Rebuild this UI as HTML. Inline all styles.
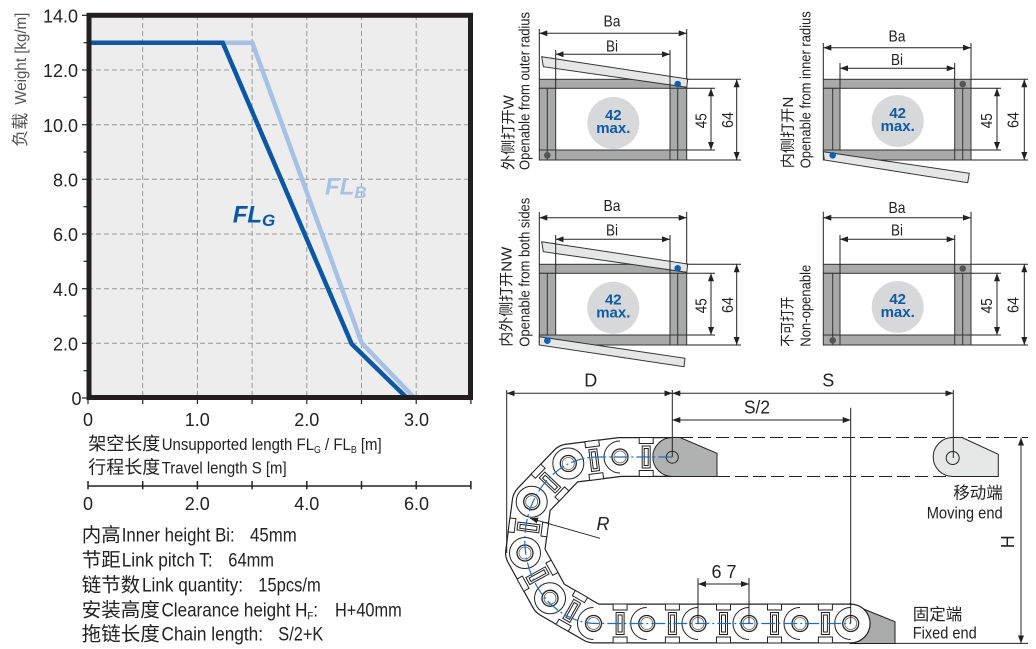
<!DOCTYPE html>
<html><head><meta charset="utf-8"><style>
html,body{margin:0;padding:0;background:#fff;}
svg{display:block;}
text{font-family:"Liberation Sans","Noto Sans CJK SC",sans-serif;fill:#222;}
.cj{font-family:"Noto Sans CJK SC","Liberation Sans",sans-serif;}
</style></head><body>
<svg width="1036" height="649" viewBox="0 0 1036 649" xmlns="http://www.w3.org/2000/svg">
<defs>
<marker id="a" viewBox="0 0 8 6" refX="8" refY="3" markerWidth="8" markerHeight="6" markerUnits="userSpaceOnUse" orient="auto-start-reverse"><path d="M0,0L8,3L0,6z" fill="#222"/></marker>
</defs>

<!-- ============ CHART ============ -->
<rect x="88" y="15.3" width="383" height="382.7" fill="#ecedec"/>
<g stroke="#9a9a9a" stroke-width="1" stroke-dasharray="5,3">
<line x1="142.7" y1="15" x2="142.7" y2="398"/><line x1="197.4" y1="15" x2="197.4" y2="398"/>
<line x1="252.1" y1="15" x2="252.1" y2="398"/><line x1="306.8" y1="15" x2="306.8" y2="398"/>
<line x1="361.5" y1="15" x2="361.5" y2="398"/><line x1="416.2" y1="15" x2="416.2" y2="398"/>
<line x1="88" y1="343.3" x2="471" y2="343.3"/><line x1="88" y1="288.7" x2="471" y2="288.7"/>
<line x1="88" y1="234" x2="471" y2="234"/><line x1="88" y1="179.3" x2="471" y2="179.3"/>
<line x1="88" y1="124.7" x2="471" y2="124.7"/><line x1="88" y1="70" x2="471" y2="70"/>
</g>
<path d="M91,42.7 L252.3,42.7 L361.7,343 L413.5,397" fill="none" stroke="#a7c1e6" stroke-width="4.5"/>
<path d="M91,42.7 L222.7,42.7 L351.7,344 L406,397" fill="none" stroke="#0c57a5" stroke-width="4.5"/>
<rect x="89" y="15.3" width="381.5" height="382.2" fill="none" stroke="#231f20" stroke-width="5"/>
<text x="232.7" y="222.7" font-size="24" font-weight="bold" font-style="italic" style="fill:#0c57a5">FL<tspan font-size="17" dy="3.5">G</tspan></text>
<text x="325" y="194.3" font-size="24" font-weight="bold" font-style="italic" style="fill:#a7c1e6">FL<tspan font-size="17" dy="3.5">B</tspan></text>
<!-- y ticks -->
<g stroke="#222" stroke-width="1.2">
<line x1="82" y1="15.3" x2="87" y2="15.3"/><line x1="82" y1="70" x2="87" y2="70"/><line x1="82" y1="124.7" x2="87" y2="124.7"/>
<line x1="82" y1="179.3" x2="87" y2="179.3"/><line x1="82" y1="234" x2="87" y2="234"/><line x1="82" y1="288.7" x2="87" y2="288.7"/>
<line x1="82" y1="343.3" x2="87" y2="343.3"/><line x1="82" y1="398" x2="87" y2="398"/>
<line x1="83.5" y1="42.7" x2="87" y2="42.7"/><line x1="83.5" y1="97.3" x2="87" y2="97.3"/><line x1="83.5" y1="152" x2="87" y2="152"/>
<line x1="83.5" y1="206.7" x2="87" y2="206.7"/><line x1="83.5" y1="261.3" x2="87" y2="261.3"/><line x1="83.5" y1="316" x2="87" y2="316"/>
<line x1="83.5" y1="370.7" x2="87" y2="370.7"/>
<line x1="88" y1="398" x2="88" y2="404"/><line x1="142.7" y1="398" x2="142.7" y2="404"/><line x1="197.4" y1="398" x2="197.4" y2="404"/>
<line x1="252.1" y1="398" x2="252.1" y2="404"/><line x1="306.8" y1="398" x2="306.8" y2="404"/><line x1="361.5" y1="398" x2="361.5" y2="404"/>
<line x1="416.2" y1="398" x2="416.2" y2="404"/><line x1="470.9" y1="398" x2="470.9" y2="404"/>
</g>
<g font-size="18" text-anchor="end">
<text x="78" y="22.5">14.0</text><text x="78" y="77.2">12.0</text><text x="78" y="131.9">10.0</text>
<text x="78" y="186.5">8.0</text><text x="78" y="241.2">6.0</text><text x="78" y="295.9">4.0</text>
<text x="78" y="350.5">2.0</text><text x="81.5" y="405">0</text>
</g>
<g font-size="18" text-anchor="middle">
<text x="88" y="426">0</text><text x="197.3" y="426">1.0</text><text x="306.8" y="426">2.0</text><text x="416.5" y="426">3.0</text>
<text x="88" y="510">0</text><text x="197.3" y="510">2.0</text><text x="306.8" y="510">4.0</text><text x="416.5" y="510">6.0</text>
</g>
<g transform="translate(26,146.7) rotate(-90)">
<text class="cj" x="0" y="0" font-size="17" style="fill:#555">负载</text>
<text x="42" y="0" font-size="16" textLength="92" lengthAdjust="spacingAndGlyphs" style="fill:#555">Weight [kg/m]</text>
</g>
<!-- axis titles -->
<text class="cj" x="88.3" y="450" font-size="18">架空长度</text>
<text x="161.7" y="450" font-size="17" textLength="220" lengthAdjust="spacingAndGlyphs">Unsupported length FL<tspan font-size="10" dy="3">G</tspan><tspan dy="-3"> / FL</tspan><tspan font-size="10" dy="3">B</tspan><tspan dy="-3"> [m]</tspan></text>
<text class="cj" x="88.3" y="473.3" font-size="18">行程长度</text>
<text x="161.7" y="473.3" font-size="17" textLength="125" lengthAdjust="spacingAndGlyphs">Travel length S [m]</text>
<!-- second axis -->
<g stroke="#222" stroke-width="1.5">
<line x1="88" y1="486" x2="471" y2="486"/>
<line x1="88" y1="481" x2="88" y2="489.3"/><line x1="142.7" y1="481" x2="142.7" y2="489.3"/><line x1="197.4" y1="481" x2="197.4" y2="489.3"/>
<line x1="252.1" y1="481" x2="252.1" y2="489.3"/><line x1="306.8" y1="481" x2="306.8" y2="489.3"/><line x1="361.5" y1="481" x2="361.5" y2="489.3"/>
<line x1="416.2" y1="481" x2="416.2" y2="489.3"/><line x1="470.9" y1="481" x2="470.9" y2="489.3"/>
</g>
<!-- specs -->
<g font-size="19.5">
<text class="cj" x="81.7" y="541.7">内高</text>
<text x="121.7" y="541.7" textLength="113" lengthAdjust="spacingAndGlyphs">Inner height Bi:</text>
<text x="250" y="541.7" textLength="46.7" lengthAdjust="spacingAndGlyphs">45mm</text>
<text class="cj" x="81.7" y="566.7">节距</text>
<text x="121.7" y="566.7" textLength="91" lengthAdjust="spacingAndGlyphs">Link pitch T:</text>
<text x="228.3" y="566.7" textLength="45.7" lengthAdjust="spacingAndGlyphs">64mm</text>
<text class="cj" x="81.7" y="591.7">链节数</text>
<text x="142" y="591.7" textLength="101" lengthAdjust="spacingAndGlyphs">Link quantity:</text>
<text x="258.3" y="591.7" textLength="62.4" lengthAdjust="spacingAndGlyphs">15pcs/m</text>
<text class="cj" x="81.7" y="616.7">安装高度</text>
<text x="161.5" y="616.7" textLength="156.5" lengthAdjust="spacingAndGlyphs">Clearance height H<tspan font-size="11" dy="3">F</tspan><tspan dy="-3">:</tspan></text>
<text x="335" y="616.7" textLength="66.7" lengthAdjust="spacingAndGlyphs">H+40mm</text>
<text class="cj" x="81.7" y="640.7">拖链长度</text>
<text x="161.5" y="640.7" textLength="101.5" lengthAdjust="spacingAndGlyphs">Chain length:</text>
<text x="278.3" y="640.7" textLength="45" lengthAdjust="spacingAndGlyphs">S/2+K</text>
</g>

<!-- ============ CROSS SECTIONS ============ -->
<g stroke="#333" stroke-width="1">
<!-- section 1 -->
<rect x="539.3" y="79.3" width="147.4" height="9" fill="#a8aaaa"/>
<rect x="539.3" y="150" width="147.4" height="10" fill="#a8aaaa"/>
<rect x="539.3" y="88.3" width="16.4" height="61.7" fill="#a8aaaa"/>
<rect x="670" y="88.3" width="16.7" height="61.7" fill="#a8aaaa"/>
<line x1="547.3" y1="88.3" x2="547.3" y2="160"/><line x1="677.7" y1="88.3" x2="677.7" y2="160"/>
<line x1="555.7" y1="150" x2="555.7" y2="160"/><line x1="670" y1="150" x2="670" y2="160"/>
<polygon points="541.7,56.7 687.7,79 686.7,87.3 543.3,66.7" fill="#e5e7e7"/>
<!-- section 2 -->
<rect x="823.3" y="79.3" width="147.7" height="9" fill="#a8aaaa"/>
<rect x="823.3" y="150" width="147.7" height="10" fill="#a8aaaa"/>
<rect x="823.3" y="88.3" width="16.7" height="61.7" fill="#a8aaaa"/>
<rect x="954.7" y="88.3" width="16.3" height="61.7" fill="#a8aaaa"/>
<line x1="832.7" y1="88.3" x2="832.7" y2="150"/><line x1="962.7" y1="88.3" x2="962.7" y2="160"/>
<line x1="954.7" y1="150" x2="954.7" y2="160"/>
<polygon points="823.3,151.7 969.3,173.3 967.7,182.7 824.3,160" fill="#e5e7e7"/>
<!-- section 3 -->
<rect x="539.3" y="264.3" width="147.4" height="9" fill="#a8aaaa"/>
<rect x="539.3" y="335" width="147.4" height="10" fill="#a8aaaa"/>
<rect x="539.3" y="273.3" width="16.4" height="61.7" fill="#a8aaaa"/>
<rect x="670" y="273.3" width="16.7" height="61.7" fill="#a8aaaa"/>
<line x1="547.3" y1="273.3" x2="547.3" y2="335"/><line x1="677.7" y1="273.3" x2="677.7" y2="345"/>
<line x1="670" y1="335" x2="670" y2="345"/>
<polygon points="541.7,241.7 687.7,264 686.7,272.3 543.3,251.7" fill="#e5e7e7"/>
<polygon points="539.3,336.7 685,358.3 684,366.7 539.3,345" fill="#e5e7e7"/>
<!-- section 4 -->
<rect x="823.3" y="264.3" width="147.7" height="9" fill="#a8aaaa"/>
<rect x="823.3" y="335" width="147.7" height="10" fill="#a8aaaa"/>
<rect x="823.3" y="273.3" width="16.7" height="61.7" fill="#a8aaaa"/>
<rect x="954.7" y="273.3" width="16.3" height="61.7" fill="#a8aaaa"/>
<line x1="832.7" y1="273.3" x2="832.7" y2="345"/><line x1="962.7" y1="273.3" x2="962.7" y2="345"/>
<line x1="840" y1="335" x2="840" y2="345"/><line x1="954.7" y1="335" x2="954.7" y2="345"/>
</g>
<!-- dots -->
<circle cx="677.7" cy="84" r="3.3" fill="#0e5fb5"/><circle cx="547.3" cy="155.3" r="3.3" fill="#555"/>
<circle cx="962.7" cy="84" r="3.3" fill="#555"/><circle cx="832.7" cy="155.3" r="3.3" fill="#0e5fb5"/>
<circle cx="677.7" cy="268.3" r="3.3" fill="#0e5fb5"/><circle cx="547.3" cy="340.7" r="3.3" fill="#0e5fb5"/>
<circle cx="962.7" cy="268.5" r="3.3" fill="#555"/><circle cx="832.7" cy="340.3" r="3.3" fill="#555"/>
<!-- circles -->
<g fill="#d7d8da">
<circle cx="613.3" cy="123" r="26"/><circle cx="897.7" cy="121" r="26"/>
<circle cx="613.3" cy="307.7" r="26"/><circle cx="897.7" cy="307" r="26"/>
</g>
<g font-size="15" font-weight="bold" text-anchor="middle" style="fill:#0d5aa7">
<text x="613.3" y="120" style="fill:#0d5aa7">42</text><text x="613.3" y="133" style="fill:#0d5aa7">max.</text>
<text x="897.7" y="118" style="fill:#0d5aa7">42</text><text x="897.7" y="131" style="fill:#0d5aa7">max.</text>
<text x="613.3" y="304.7" style="fill:#0d5aa7">42</text><text x="613.3" y="317.7" style="fill:#0d5aa7">max.</text>
<text x="897.7" y="304" style="fill:#0d5aa7">42</text><text x="897.7" y="317" style="fill:#0d5aa7">max.</text>
</g>
<!-- dimension lines for sections -->
<g stroke="#222" stroke-width="1" fill="none">
<!-- s1 -->
<line x1="539.3" y1="29" x2="539.3" y2="79.3"/><line x1="686.7" y1="29" x2="686.7" y2="79.3"/>
<line x1="555.7" y1="50" x2="555.7" y2="88.3"/><line x1="670" y1="50" x2="670" y2="88.3"/>
<line x1="686.7" y1="88.3" x2="715" y2="88.3"/><line x1="686.7" y1="150" x2="715" y2="150"/>
<line x1="686.7" y1="79.3" x2="741" y2="79.3"/><line x1="686.7" y1="160" x2="741" y2="160"/>
<line x1="539.3" y1="33.3" x2="686.7" y2="33.3" marker-start="url(#a)" marker-end="url(#a)"/>
<line x1="555.7" y1="54.3" x2="670" y2="54.3" marker-start="url(#a)" marker-end="url(#a)"/>
<line x1="711" y1="88.3" x2="711" y2="150" marker-start="url(#a)" marker-end="url(#a)"/>
<line x1="736.7" y1="79.3" x2="736.7" y2="160" marker-start="url(#a)" marker-end="url(#a)"/>
<!-- s2 -->
<line x1="823.3" y1="43" x2="823.3" y2="79.3"/><line x1="971" y1="43" x2="971" y2="79.3"/>
<line x1="840" y1="63" x2="840" y2="88.3"/><line x1="954.7" y1="63" x2="954.7" y2="88.3"/>
<line x1="971" y1="88.3" x2="1001" y2="88.3"/><line x1="971" y1="150" x2="1001" y2="150"/>
<line x1="971" y1="79.3" x2="1028" y2="79.3"/><line x1="971" y1="160" x2="1028" y2="160"/>
<line x1="823.3" y1="47.7" x2="971" y2="47.7" marker-start="url(#a)" marker-end="url(#a)"/>
<line x1="840" y1="68.3" x2="954.7" y2="68.3" marker-start="url(#a)" marker-end="url(#a)"/>
<line x1="997" y1="88.3" x2="997" y2="150" marker-start="url(#a)" marker-end="url(#a)"/>
<line x1="1024.3" y1="79.3" x2="1024.3" y2="160" marker-start="url(#a)" marker-end="url(#a)"/>
<!-- s3 -->
<line x1="539.3" y1="212" x2="539.3" y2="264.3"/><line x1="686.7" y1="212" x2="686.7" y2="264.3"/>
<line x1="555.7" y1="235" x2="555.7" y2="273.3"/><line x1="670" y1="235" x2="670" y2="273.3"/>
<line x1="686.7" y1="273.3" x2="715" y2="273.3"/><line x1="686.7" y1="335" x2="715" y2="335"/>
<line x1="686.7" y1="264.3" x2="741" y2="264.3"/><line x1="686.7" y1="345" x2="741" y2="345"/>
<line x1="539.3" y1="217.7" x2="686.7" y2="217.7" marker-start="url(#a)" marker-end="url(#a)"/>
<line x1="555.7" y1="239.3" x2="670" y2="239.3" marker-start="url(#a)" marker-end="url(#a)"/>
<line x1="711" y1="273.3" x2="711" y2="335" marker-start="url(#a)" marker-end="url(#a)"/>
<line x1="736.7" y1="264.3" x2="736.7" y2="345" marker-start="url(#a)" marker-end="url(#a)"/>
<!-- s4 -->
<line x1="823.3" y1="211.7" x2="823.3" y2="264.3"/><line x1="971" y1="211.7" x2="971" y2="264.3"/>
<line x1="840" y1="235" x2="840" y2="273.3"/><line x1="954.7" y1="235" x2="954.7" y2="273.3"/>
<line x1="971" y1="273.3" x2="1001" y2="273.3"/><line x1="971" y1="335" x2="1001" y2="335"/>
<line x1="971" y1="264.3" x2="1028" y2="264.3"/><line x1="971" y1="345" x2="1028" y2="345"/>
<line x1="823.3" y1="217.7" x2="971" y2="217.7" marker-start="url(#a)" marker-end="url(#a)"/>
<line x1="840" y1="239.3" x2="954.7" y2="239.3" marker-start="url(#a)" marker-end="url(#a)"/>
<line x1="997" y1="273.3" x2="997" y2="335" marker-start="url(#a)" marker-end="url(#a)"/>
<line x1="1024.3" y1="264.3" x2="1024.3" y2="345" marker-start="url(#a)" marker-end="url(#a)"/>
</g>
<g font-size="16" text-anchor="middle">
<text x="612" y="26.7" textLength="17" lengthAdjust="spacingAndGlyphs">Ba</text>
<text x="612" y="51.7" textLength="12" lengthAdjust="spacingAndGlyphs">Bi</text>
<text x="897" y="41.7" textLength="17" lengthAdjust="spacingAndGlyphs">Ba</text>
<text x="897" y="65" textLength="12" lengthAdjust="spacingAndGlyphs">Bi</text>
<text x="612" y="211" textLength="17" lengthAdjust="spacingAndGlyphs">Ba</text>
<text x="612" y="235.5" textLength="12" lengthAdjust="spacingAndGlyphs">Bi</text>
<text x="897" y="213" textLength="17" lengthAdjust="spacingAndGlyphs">Ba</text>
<text x="897" y="235.7" textLength="12" lengthAdjust="spacingAndGlyphs">Bi</text>
<text transform="translate(706.3,120.7) rotate(-90)" textLength="15" lengthAdjust="spacingAndGlyphs">45</text>
<text transform="translate(733,120) rotate(-90)" textLength="16" lengthAdjust="spacingAndGlyphs">64</text>
<text transform="translate(992,120.7) rotate(-90)" textLength="15" lengthAdjust="spacingAndGlyphs">45</text>
<text transform="translate(1018.7,120) rotate(-90)" textLength="16" lengthAdjust="spacingAndGlyphs">64</text>
<text transform="translate(706.3,305.7) rotate(-90)" textLength="15" lengthAdjust="spacingAndGlyphs">45</text>
<text transform="translate(733,305) rotate(-90)" textLength="16" lengthAdjust="spacingAndGlyphs">64</text>
<text transform="translate(992,305.7) rotate(-90)" textLength="15" lengthAdjust="spacingAndGlyphs">45</text>
<text transform="translate(1018.7,305) rotate(-90)" textLength="16" lengthAdjust="spacingAndGlyphs">64</text>
</g>
<!-- side labels -->
<g font-size="14.5" style="fill:#333">
<text transform="translate(513.5,170) rotate(-90)" textLength="75" lengthAdjust="spacingAndGlyphs">外侧打开W</text>
<text transform="translate(529.5,170) rotate(-90)" textLength="158" lengthAdjust="spacingAndGlyphs">Openable from outer radius</text>
<text transform="translate(793,168.3) rotate(-90)" textLength="71.6" lengthAdjust="spacingAndGlyphs">内侧打开N</text>
<text transform="translate(810.5,168.3) rotate(-90)" textLength="157" lengthAdjust="spacingAndGlyphs">Openable from inner radius</text>
<text transform="translate(511.5,346.7) rotate(-90)" textLength="100" lengthAdjust="spacingAndGlyphs">内外侧打开NW</text>
<text transform="translate(529.5,346.7) rotate(-90)" textLength="149" lengthAdjust="spacingAndGlyphs">Openable from both sides</text>
<text transform="translate(792.5,346.7) rotate(-90)" textLength="50" lengthAdjust="spacingAndGlyphs">不可打开</text>
<text transform="translate(810.5,346.7) rotate(-90)" textLength="82" lengthAdjust="spacingAndGlyphs">Non-openable</text>
</g>

<!-- ============ CHAIN ============ -->
<path d="M850,603.5 L895,621.7 L895,643.5 L850,643.5 Z" fill="#a9aaaa" stroke="#222" stroke-width="1"/>
<g fill="none" stroke-linejoin="round" stroke-linecap="round">
<polyline points="672.3,457 620,457 568.3,463.5 531.7,501.7 525,553 550,598.3 593.5,623.5 646.7,623.5 698,623.5 749,623.5 800,623.5 850.7,623.5" stroke="#222" stroke-width="40"/>
<polyline points="672.3,457 620,457 568.3,463.5 531.7,501.7 525,553 550,598.3 593.5,623.5 646.7,623.5 698,623.5 749,623.5 800,623.5 850.7,623.5" stroke="#fff" stroke-width="37.6"/>
</g>
<!-- bars -->
<g fill="#fff" stroke="#222" stroke-width="1">
<defs><g id="bar"><rect x="-4" y="-11" width="8" height="22"/><rect x="-2" y="-8.5" width="4" height="17"/><rect x="-7" y="-19.5" width="14" height="6"/><rect x="-7" y="13.5" width="14" height="6"/></g></defs>
<use href="#bar" transform="translate(646.2,457)"/>
<use href="#bar" transform="translate(594.2,460.2) rotate(-7.2)"/>
<use href="#bar" transform="translate(550,482.6) rotate(-46.2)"/>
<use href="#bar" transform="translate(528.4,527.4) rotate(-82.6)"/>
<use href="#bar" transform="translate(537.5,575.7) rotate(61.1)"/>
<use href="#bar" transform="translate(571.8,610.9) rotate(29.6)"/>
<use href="#bar" transform="translate(620.1,623.5)"/>
<use href="#bar" transform="translate(672.4,623.5)"/>
<use href="#bar" transform="translate(723.5,623.5)"/>
<use href="#bar" transform="translate(774.5,623.5)"/>
<use href="#bar" transform="translate(825.4,623.5)"/>
</g>
<!-- pivots -->
<g fill="none" stroke="#222" stroke-width="1">
<path d="M620,441 A16,16 0 0 0 620,473"/>
<circle cx="568.3" cy="463.5" r="15.5"/><circle cx="531.7" cy="501.7" r="15.5"/>
<circle cx="525" cy="553" r="15.5"/><circle cx="550" cy="598.3" r="15.5"/>
<path d="M593.5,607.5 A16,16 0 0 0 593.5,639.5"/>
<path d="M646.7,607.5 A16,16 0 0 0 646.7,639.5"/>
<path d="M698,607.5 A16,16 0 0 0 698,639.5"/>
<path d="M749,607.5 A16,16 0 0 0 749,639.5"/>
<path d="M800,607.5 A16,16 0 0 0 800,639.5"/>
<path d="M850.7,607.5 A16,16 0 0 0 850.7,639.5"/>
</g>
<g fill="#fff" stroke="#222" stroke-width="1.3">
<circle cx="620" cy="457" r="8"/><circle cx="568.3" cy="463.5" r="8"/><circle cx="531.7" cy="501.7" r="8"/>
<circle cx="525" cy="553" r="8"/><circle cx="550" cy="598.3" r="8"/><circle cx="593.5" cy="623.5" r="8"/>
<circle cx="646.7" cy="623.5" r="8"/><circle cx="698" cy="623.5" r="8"/><circle cx="749" cy="623.5" r="8"/>
<circle cx="800" cy="623.5" r="8"/><circle cx="850.7" cy="623.5" r="8"/>
</g>
<g fill="none" stroke="#555" stroke-width="0.8">
<circle cx="620" cy="457" r="6"/><circle cx="568.3" cy="463.5" r="6"/><circle cx="531.7" cy="501.7" r="6"/>
<circle cx="525" cy="553" r="6"/><circle cx="550" cy="598.3" r="6"/><circle cx="593.5" cy="623.5" r="6"/>
<circle cx="646.7" cy="623.5" r="6"/><circle cx="698" cy="623.5" r="6"/><circle cx="749" cy="623.5" r="6"/>
<circle cx="800" cy="623.5" r="6"/><circle cx="850.7" cy="623.5" r="6"/>
</g>
<!-- moving-end bracket (on chain) -->
<path d="M672.3,437.5 L680,437.5 L717,453.3 L717,476.5 L672.3,476.5 A19.5,19.5 0 0 1 672.3,437.5 Z" fill="#b0b1b1" stroke="#222" stroke-width="1"/>
<circle cx="672.3" cy="457.2" r="6" fill="#b0b1b1" stroke="#222" stroke-width="1"/>
<!-- moving end (light) -->
<path d="M952.7,437.5 L962,437.5 L998.3,454.3 L998.3,476.5 L952.7,476.5 A19.5,19.5 0 0 1 952.7,437.5 Z" fill="#e6e7e7" stroke="#222" stroke-width="1"/>
<circle cx="952.7" cy="458" r="6.5" fill="#e6e7e7" stroke="#222" stroke-width="1"/>
<!-- dashed lines -->
<g stroke="#222" stroke-width="1" stroke-dasharray="13,5">
<line x1="680" y1="437.5" x2="1028" y2="437.5"/>
<line x1="717" y1="476.5" x2="946" y2="476.5"/>
</g>
<line x1="895" y1="643.4" x2="1028" y2="643.4" stroke="#222" stroke-width="1"/>
<!-- blue centerline -->
<path d="M672.3,457 L597,457 A72,83 0 0 0 597,623.5 L850.7,623.5" fill="none" stroke="#1a6fc4" stroke-width="1.2" stroke-dasharray="14,3,2,3"/>
<!-- dimensions -->
<g stroke="#222" stroke-width="1" fill="none">
<line x1="506.7" y1="390" x2="506.7" y2="553"/>
<line x1="672.3" y1="390" x2="672.3" y2="457"/>
<line x1="953.3" y1="390" x2="953.3" y2="458"/>
<line x1="850.7" y1="407.7" x2="850.7" y2="623.5"/>
<line x1="506.7" y1="393.3" x2="672.3" y2="393.3" marker-start="url(#a)" marker-end="url(#a)"/>
<line x1="672.3" y1="393.3" x2="953.3" y2="393.3" marker-start="url(#a)" marker-end="url(#a)"/>
<line x1="672.3" y1="420" x2="850.7" y2="420" marker-start="url(#a)" marker-end="url(#a)"/>
<line x1="698" y1="578" x2="698" y2="623.5"/>
<line x1="749" y1="578" x2="749" y2="623.5"/>
<line x1="698" y1="584" x2="749" y2="584" marker-start="url(#a)" marker-end="url(#a)"/>
<line x1="1021" y1="437.5" x2="1021" y2="643.4" marker-start="url(#a)" marker-end="url(#a)"/>
<line x1="600" y1="538.3" x2="530" y2="518.3" marker-end="url(#a)"/>
</g>
<g font-size="18" text-anchor="middle">
<text x="590.7" y="386.7">D</text>
<text x="828.3" y="386.7">S</text>
<text x="757" y="413.3" textLength="26" lengthAdjust="spacingAndGlyphs">S/2</text>
<text x="724" y="578">6 7</text>
<text x="603" y="530" font-style="italic">R</text>
<text transform="translate(1014,541.7) rotate(-90)">H</text>
</g>
<g font-size="16.5" text-anchor="end">
<text class="cj" x="1002.7" y="498.5">移动端</text>
<text x="1002.7" y="518.3" textLength="76" lengthAdjust="spacingAndGlyphs">Moving end</text>
</g>
<g font-size="16.5">
<text class="cj" x="912.7" y="620">固定端</text>
<text x="912.7" y="638.3" textLength="64" lengthAdjust="spacingAndGlyphs">Fixed end</text>
</g>
</svg>
</body></html>
